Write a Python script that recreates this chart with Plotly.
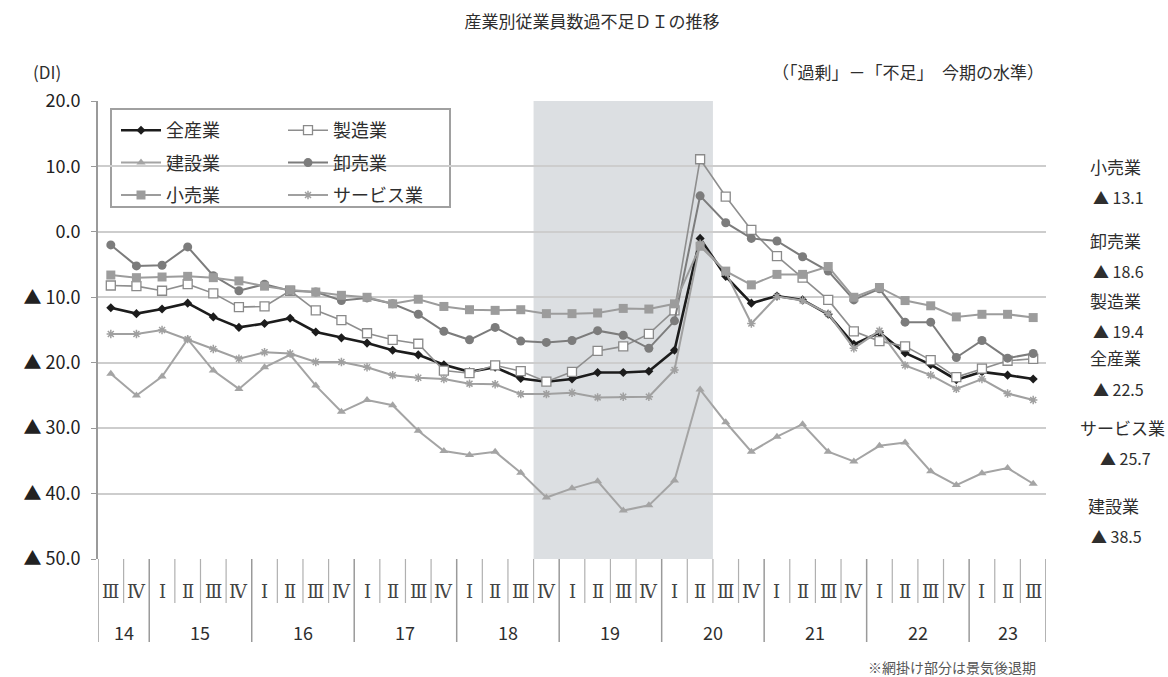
import plotly.graph_objects as go

# ---------------- data ----------------
title_text = "産業別従業員数過不足ＤＩの推移"
years = ["14", "15", "16", "17", "18", "19", "20", "21", "22", "23"]
roman = ["Ⅰ", "Ⅱ", "Ⅲ", "Ⅳ"]
first_quarter = 3   # 2014 starts at Q3
last_quarter = 3    # 2023 ends at Q3
recession_start = ("18", 4)
recession_end = ("20", 2)

names = ["全産業", "製造業", "建設業", "卸売業", "小売業", "サービス業"]

all_industries = [-11.6, -12.5, -11.8, -10.9, -13.0, -14.6, -14.0, -13.2, -15.3, -16.2,
                  -17.0, -18.1, -18.8, -20.3, -21.4, -20.7, -22.4, -22.9, -22.5, -21.5,
                  -21.5, -21.3, -18.1, -1.0, -6.8, -10.9, -9.8, -10.4, -12.6, -17.2,
                  -15.4, -18.5, -20.3, -22.6, -21.4, -21.9, -22.5]
manufacturing = [-8.2, -8.3, -9.0, -8.0, -9.4, -11.5, -11.4, -9.0, -12.0, -13.5,
                 -15.5, -16.5, -17.1, -21.2, -21.6, -20.4, -21.3, -22.9, -21.4, -18.2,
                 -17.5, -15.6, -12.0, 11.1, 5.4, 0.3, -3.7, -7.0, -10.4, -15.2,
                 -16.7, -17.5, -19.6, -22.2, -20.9, -19.7, -19.4]
construction = [-21.7, -25.0, -22.1, -16.4, -21.2, -24.0, -20.7, -18.8, -23.5, -27.5,
                -25.7, -26.5, -30.4, -33.5, -34.1, -33.6, -36.8, -40.6, -39.2, -38.1,
                -42.6, -41.8, -38.0, -24.1, -29.1, -33.6, -31.3, -29.4, -33.6, -35.1,
                -32.7, -32.2, -36.6, -38.7, -36.9, -36.1, -38.5]
wholesale = [-2.0, -5.2, -5.1, -2.3, -6.7, -9.0, -8.0, -9.0, -9.2, -10.5,
             -10.1, -11.0, -12.6, -15.2, -16.5, -14.6, -16.7, -16.9, -16.6, -15.1,
             -15.8, -17.8, -13.6, 5.5, 1.4, -1.0, -1.4, -3.8, -6.0, -10.4,
             -8.7, -13.8, -13.8, -19.2, -16.6, -19.3, -18.6]
retail = [-6.6, -7.0, -6.9, -6.8, -7.0, -7.5, -8.3, -8.9, -9.2, -9.7,
          -10.0, -11.0, -10.3, -11.4, -11.9, -12.0, -11.9, -12.5, -12.5, -12.4,
          -11.7, -11.8, -11.0, -2.2, -6.0, -8.1, -6.5, -6.5, -5.3, -10.0,
          -8.5, -10.5, -11.3, -13.0, -12.6, -12.6, -13.1]
services = [-15.6, -15.6, -15.0, -16.4, -17.9, -19.4, -18.4, -18.6, -19.9, -19.9,
            -20.7, -21.9, -22.3, -22.5, -23.2, -23.3, -24.8, -24.8, -24.6, -25.3,
            -25.2, -25.2, -21.1, -1.8, -6.2, -14.0, -9.9, -10.5, -12.5, -17.8,
            -15.1, -20.4, -21.9, -24.0, -22.5, -24.7, -25.7]

series_values = [all_industries, manufacturing, construction, wholesale, retail, services]
y_ticks = [20, 10, 0, -10, -20, -30, -40, -50]

# ---------------- derived categories ----------------
periods = []
for yr in years:
    qs = list(range(1, 5))
    if yr == years[0]:
        qs = list(range(first_quarter, 5))
    if yr == years[-1]:
        qs = list(range(1, last_quarter + 1))
    for q in qs:
        periods.append((yr, q))
n = len(periods)
xs = list(range(n))

# ---------------- layout helpers (pixels -> paper) ----------------
W, H = 1168, 677
L, R, T, B = 98, 1046, 101, 559


def px(x):
    return (x - L) / (R - L)


def py(y):
    return (B - y) / (B - T)


FONT = "Noto Sans CJK JP"
TXT = "#2e2e2e"

styles = {
    "全産業": dict(line=dict(color="#1c1c1c", width=2.6),
                 marker=dict(symbol="diamond", size=7, color="#1c1c1c")),
    "製造業": dict(line=dict(color="#8e8e8e", width=1.6),
                 marker=dict(symbol="square", size=9, color="white",
                             line=dict(color="#8a8a8a", width=1.3))),
    "建設業": dict(line=dict(color="#a4a4a4", width=2),
                 marker=dict(symbol="triangle-up", size=8, color="#a4a4a4")),
    "卸売業": dict(line=dict(color="#7c7c7c", width=2),
                 marker=dict(symbol="circle", size=9, color="#7c7c7c")),
    "小売業": dict(line=dict(color="#9c9c9c", width=2),
                 marker=dict(symbol="square", size=9, color="#9c9c9c")),
    "サービス業": dict(line=dict(color="#a0a0a0", width=2),
                   marker=dict(symbol="asterisk-open", size=7, color="#a0a0a0",
                               line=dict(color="#a0a0a0", width=1.5))),
}
legend_of = {"全産業": "legend", "建設業": "legend", "小売業": "legend",
             "製造業": "legend2", "卸売業": "legend2", "サービス業": "legend2"}

fig = go.Figure()
for name, vals in zip(names, series_values):
    fig.add_trace(go.Scatter(x=xs, y=vals, name=name, mode="lines+markers",
                             legend=legend_of[name], legendgroup=name, **styles[name]))

# ---------------- shapes ----------------
shapes = []
i0 = periods.index(recession_start)
i1 = periods.index(recession_end)
shapes.append(dict(type="rect", xref="x", yref="y", x0=i0 - 0.5, x1=i1 + 0.5,
                   y0=min(y_ticks), y1=max(y_ticks), fillcolor="#dcdfe2",
                   line=dict(width=0), layer="below"))
for k in range(n + 1):
    bx = k - 0.5
    is_year = k == 0 or k == n or periods[k][0] != periods[k - 1][0]
    shapes.append(dict(type="line", xref="x", yref="paper", x0=bx, x1=bx,
                       y0=0, y1=py(642) if is_year else py(603),
                       line=dict(color="#9a9a9a" if is_year else "#b0b0b0",
                                 width=1.5 if is_year else 1.2)))
# legend frame
shapes.append(dict(type="rect", xref="paper", yref="paper",
                   x0=px(111), x1=px(450), y0=py(207), y1=py(109),
                   line=dict(color="#a0a0a0", width=2), fillcolor="white", layer="below"))

# ---------------- annotations ----------------
ann = []


def note(x, y, text, size, xanchor="center", color=TXT, family=FONT, xref="paper"):
    ann.append(dict(x=x, y=y, xref=xref, yref="paper", text=text, showarrow=False,
                    xanchor=xanchor, yanchor="middle",
                    font=dict(family=family, size=size, color=color)))


for i, (yr, q) in enumerate(periods):
    note(i, py(591), roman[q - 1], 18, color="#444", family="DejaVu Serif", xref="x")
for yr in years:
    idx = [i for i, p in enumerate(periods) if p[0] == yr]
    note(sum(idx) / len(idx), py(632), yr, 18, xref="x")

note(px(47), py(72), "(DI)", 17)
note(px(1046), py(72), "（「過剰」－「不足」　今期の水準）", 17, xanchor="right")
note(px(1038), py(667), "※網掛け部分は景気後退期", 14, xanchor="right", color="#555")

# right-side labels, ordered by latest value
right_name_y = [166, 240, 300, 358, 427, 505]
right_x = [1115, 1115, 1115, 1115, 1122, 1113]
order = sorted(range(len(names)), key=lambda j: -series_values[j][-1])
for pos, j in enumerate(order):
    v = series_values[j][-1]
    vtxt = ("▲ " if v < 0 else "") + f"{abs(v):.1f}"
    note(px(right_x[pos]), py(right_name_y[pos]), names[j], 17)
    note(px(right_x[pos] + 3), py(right_name_y[pos] + 31), vtxt, 16)


def ytxt(v):
    return ("▲ " if v < 0 else "") + f"{abs(v):.1f}"


boundaries = [k - 0.5 for k in range(n + 1)]
zero_pos = (0 - min(y_ticks)) / (max(y_ticks) - min(y_ticks))
fig.update_layout(
    width=W, height=H,
    margin=dict(l=L, r=W - R, t=T, b=H - B),
    paper_bgcolor="white", plot_bgcolor="white",
    title=dict(text=title_text, x=592 / W, xanchor="center", y=1 - 22 / H, yanchor="middle",
               xref="container", yref="container",
               font=dict(family=FONT, size=17, color=TXT)),
    xaxis=dict(range=[-0.5, n - 0.5], showgrid=False, showticklabels=False,
               zeroline=False, showline=False, ticks=""),
    xaxis2=dict(range=[-0.5, n - 0.5], overlaying="x", anchor="free", position=zero_pos,
                showgrid=False, showticklabels=False, zeroline=False,
                showline=True, linecolor="#8c8c8c", linewidth=2,
                tickmode="array", tickvals=boundaries, ticks="inside",
                ticklen=5, tickwidth=2, tickcolor="#8c8c8c", layer="below traces"),
    xaxis3=dict(range=[-0.5, n - 0.5], overlaying="x", anchor="free", position=zero_pos,
                showgrid=False, showticklabels=False, zeroline=False,
                showline=False, tickmode="array", tickvals=boundaries, ticks="outside",
                ticklen=5, tickwidth=2, tickcolor="#8c8c8c", layer="below traces"),
    yaxis=dict(range=[min(y_ticks), max(y_ticks)], tickmode="array", tickvals=y_ticks,
               ticktext=[ytxt(v) for v in y_ticks], showgrid=True, gridcolor="#cdcdcd",
               gridwidth=2, zeroline=False, showline=True, linecolor="#9a9a9a",
               linewidth=2, ticks="outside", ticklen=5, tickcolor="#9a9a9a",
               ticklabelstandoff=7,
               tickfont=dict(family=FONT, size=18, color="#222")),
    legend=dict(x=px(116), y=py(112), xanchor="left", yanchor="top",
                bgcolor="rgba(0,0,0,0)", borderwidth=0, itemwidth=40,
                tracegroupgap=6, font=dict(family=FONT, size=18, color=TXT)),
    legend2=dict(x=px(283), y=py(112), xanchor="left", yanchor="top",
                 bgcolor="rgba(0,0,0,0)", borderwidth=0, itemwidth=40,
                 tracegroupgap=6, font=dict(family=FONT, size=18, color=TXT)),
    shapes=shapes,
    annotations=ann,
    showlegend=True,
)

fig.write_html("out.html")
